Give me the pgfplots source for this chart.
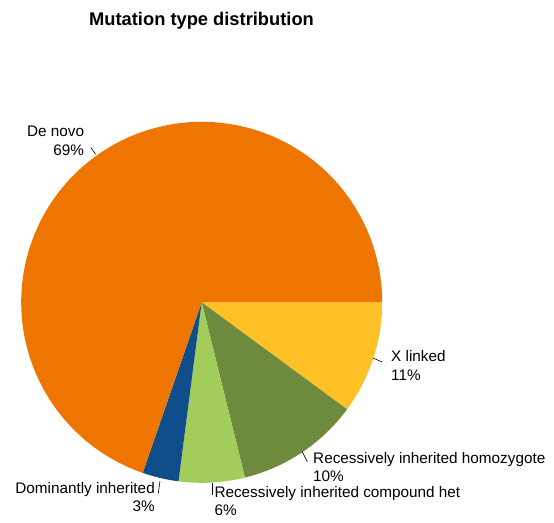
\documentclass[border=0pt]{standalone}
\usepackage{pgfplots}
\pgfplotsset{compat=1.18}
\usepackage{fontspec}
\setmainfont{Liberation Sans}
\definecolor{cDeNovo}{RGB}{238,118,0}
\definecolor{cXlinked}{RGB}{255,193,37}
\definecolor{cHomo}{RGB}{110,139,61}
\definecolor{cComp}{RGB}{162,205,90}
\definecolor{cDom}{RGB}{16,78,139}
% slice shares in percent (clockwise from 3 o'clock)
\def\vX{10.1}
\def\vHomo{11.05}
\def\vComp{5.9}
\def\vDom{3.25}
\def\vDeNovo{69.7}
\def\cx{201.7}
\def\cy{302.3}
\def\rr{180.5}
\pgfmathsetmacro{\aA}{0}
\pgfmathsetmacro{\aB}{\aA+3.6*\vX}
\pgfmathsetmacro{\aC}{\aB+3.6*\vHomo}
\pgfmathsetmacro{\aD}{\aC+3.6*\vComp}
\pgfmathsetmacro{\aE}{\aD+3.6*\vDom}
\pgfmathsetmacro{\aF}{\aE+3.6*\vDeNovo}
\begin{document}
\begin{tikzpicture}[lbl/.style={inner sep=0, font=\fontsize{15.3}{18}\selectfont}]
\begin{axis}[
  scale only axis, width=554pt, height=522pt,
  xmin=0, xmax=554, ymin=0, ymax=522, y dir=reverse,
  hide axis, clip=false,
]
\path (rel axis cs:0,0) rectangle (rel axis cs:1,1);
\addplot[fill=cXlinked, draw=none, domain=\aA:\aB, samples=40, variable=\t]
  ({\cx+\rr*cos(\t)},{\cy+\rr*sin(\t)}) -- (axis cs:\cx,\cy) -- cycle;
\addplot[fill=cHomo, draw=none, domain=\aB:\aC, samples=40, variable=\t]
  ({\cx+\rr*cos(\t)},{\cy+\rr*sin(\t)}) -- (axis cs:\cx,\cy) -- cycle;
\addplot[fill=cComp, draw=none, domain=\aC:\aD, samples=30, variable=\t]
  ({\cx+\rr*cos(\t)},{\cy+\rr*sin(\t)}) -- (axis cs:\cx,\cy) -- cycle;
\addplot[fill=cDom, draw=none, domain=\aD:\aE, samples=20, variable=\t]
  ({\cx+\rr*cos(\t)},{\cy+\rr*sin(\t)}) -- (axis cs:\cx,\cy) -- cycle;
\addplot[fill=cDeNovo, draw=none, domain=\aE:\aF, samples=200, variable=\t]
  ({\cx+\rr*cos(\t)},{\cy+\rr*sin(\t)}) -- (axis cs:\cx,\cy) -- cycle;
% leader lines
\addplot[black, line width=0.6pt] coordinates {(91,147.7) (95.7,154.3)};
\addplot[black, line width=0.6pt] coordinates {(373,358) (382,362)};
\addplot[black, line width=0.6pt] coordinates {(302.3,451.7) (307.3,461.7)};
\addplot[black, line width=0.6pt] coordinates {(212.3,483.3) (212.3,495)};
\addplot[black, line width=0.6pt] coordinates {(160,481) (158.3,493.3)};
% title
\node[anchor=base west, inner sep=0] at (axis cs:89,25)
  {\fontsize{18.3}{22}\selectfont\bfseries Mutation type distribution};
% labels
\node[lbl, anchor=base east] at (axis cs:84.3,136) {De novo};
\node[lbl, anchor=base east] at (axis cs:84.3,155.7) {69\%};
\node[lbl, anchor=base west] at (axis cs:391,361) {X linked};
\node[lbl, anchor=base west] at (axis cs:391,380) {11\%};
\node[lbl, anchor=base west] at (axis cs:313,463.3) {Recessively inherited homozygote};
\node[lbl, anchor=base west] at (axis cs:313,481.7) {10\%};
\node[lbl, anchor=base west] at (axis cs:214.3,497.3) {Recessively inherited compound het};
\node[lbl, anchor=base west] at (axis cs:214.3,515.5) {6\%};
\node[lbl, anchor=base east] at (axis cs:155,493.3) {Dominantly inherited};
\node[lbl, anchor=base east] at (axis cs:155,511.3) {3\%};
\end{axis}
\end{tikzpicture}
\end{document}
